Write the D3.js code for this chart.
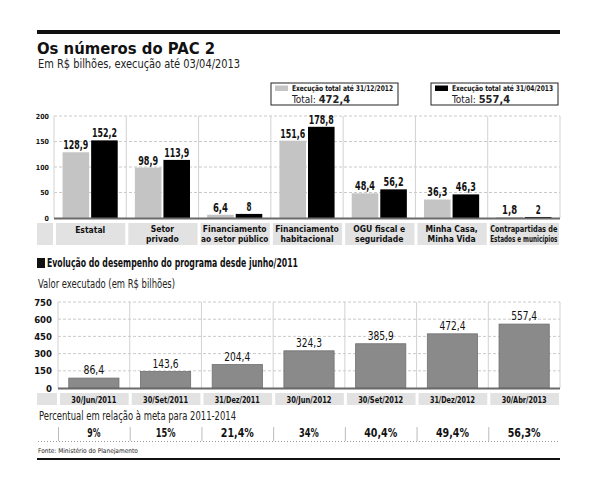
<!DOCTYPE html>
<html><head><meta charset="utf-8">
<script src="https://cdn.jsdelivr.net/npm/d3@7"></script>
<style>
body{margin:0;background:#fff;}
svg{display:block;}
text{font-family:"DejaVu Sans Condensed","DejaVu Sans",sans-serif;}
</style></head><body>
<svg id="c" width="600" height="491"></svg>
<script>
// ---- data ----
const categories = [
  ["Estatal"], ["Setor", "privado"], ["Financiamento", "ao setor público"],
  ["Financiamento", "habitacional"], ["OGU fiscal e", "seguridade"],
  ["Minha Casa,", "Minha Vida"], ["Contrapartidas de", "Estados e municípios"]
];
const series = ["Execução total até 31/12/2012", "Execução total até 31/04/2013"];
const totals = ["472,4", "557,4"];
const values2012 = [128.9, 98.9, 6.4, 151.6, 48.4, 36.3, 1.8];
const values2013 = [152.2, 113.9, 8, 178.8, 56.2, 46.3, 2];
const topTicks = [0, 50, 100, 150, 200];

const dates = ["30/Jun/2011", "30/Set/2011", "31/Dez/2011", "30/Jun/2012", "30/Set/2012", "31/Dez/2012", "30/Abr/2013"];
const executed = [86.4, 143.6, 204.4, 324.3, 385.9, 472.4, 557.4];
const bottomTicks = [0, 150, 300, 450, 600, 750];
const percents = ["9%", "15%", "21,4%", "34%", "40,4%", "49,4%", "56,3%"];

const fmt = v => String(v).replace(".", ",");
const svg = d3.select("#c");
// shrink a text to a maximum width if it is wider
function fit(sel, w) {
  sel.each(function (d) {
    const ww = typeof w === "function" ? w.call(this, d) : w;
    const L = this.getComputedTextLength();
    if (L > ww) d3.select(this).attr("textLength", ww).attr("lengthAdjust", "spacingAndGlyphs");
  });
  return sel;
}

// header
svg.append("rect").attr("x", 37).attr("y", 30).attr("width", 523).attr("height", 4).attr("fill", "#111");
svg.append("text").attr("x", 37).attr("y", 54).attr("font-family", "DejaVu Sans").attr("font-weight", "bold")
  .attr("font-size", 16.5).attr("fill", "#111").text("Os números do PAC 2");
fit(svg.append("text").attr("x", 38).attr("y", 68).attr("font-size", 12).attr("fill", "#222")
  .text("Em R$ bilhões, execução até 03/04/2013"), 202);

// legend
const legendX = [271, 431];
const legendCol = ["#c4c4c4", "#000"];
series.forEach((s, i) => {
  const g = svg.append("g").attr("transform", `translate(${legendX[i]},83)`);
  g.append("rect").attr("width", 127).attr("height", 22).attr("fill", "#fff").attr("stroke", "#222").attr("stroke-width", 1);
  g.append("rect").attr("x", 4).attr("y", 2.5).attr("width", 13).attr("height", 5.5).attr("fill", legendCol[i]);
  fit(g.append("text").attr("x", 21).attr("y", 7.8).attr("font-size", 7.8).attr("font-weight", "bold").attr("fill", "#111").text(s), 101);
  const t = g.append("text").attr("x", 21).attr("y", 20).attr("fill", "#222");
  t.append("tspan").attr("font-size", 10).text("Total: ");
  t.append("tspan").attr("font-size", 11).attr("font-weight", "bold").text(totals[i]);
});

// ---- top chart ----
const tx = d3.scaleBand().domain(d3.range(categories.length)).range([54, 560]).padding(0);
const ty = d3.scaleLinear().domain([0, 200]).range([218, 116]);
const tx1 = d3.scaleBand().domain([0, 1]).range([0, tx.bandwidth()]).paddingInner(0.07).paddingOuter(0.3);

const topG = svg.append("g");
topG.selectAll(".grid").data(topTicks.slice(1)).join("line")
  .attr("x1", 54).attr("x2", 560).attr("y1", d => ty(d)).attr("y2", d => ty(d))
  .attr("stroke", "#bdbdbd").attr("stroke-dasharray", "3,2").attr("stroke-width", 0.8);
topG.selectAll(".vsep").data(d3.range(categories.length + 1)).join("line")
  .attr("x1", d => 54 + d * tx.step()).attr("x2", d => 54 + d * tx.step())
  .attr("y1", ty(200)).attr("y2", ty(0)).attr("stroke", "#d2d2d2").attr("stroke-width", 1);

const yAxisTop = d3.axisLeft(ty).tickValues(topTicks).tickSize(0).tickPadding(4);
const ga = topG.append("g").attr("transform", "translate(53,0)").call(yAxisTop);
ga.select(".domain").remove();
ga.selectAll("text").attr("font-size", 7).attr("font-weight", "bold").attr("fill", "#111")
  .attr("font-family", "DejaVu Sans Condensed");

const vals = [values2012, values2013];
const barCol = ["#c4c4c4", "#000"];
vals.forEach((arr, si) => {
  topG.selectAll(".b" + si).data(arr).join("rect")
    .attr("x", (d, i) => tx(i) + tx1(si)).attr("width", tx1.bandwidth())
    .attr("y", d => ty(d)).attr("height", d => ty(0) - ty(d)).attr("fill", barCol[si]);
  fit(topG.selectAll(".l" + si).data(arr).join("text")
    .attr("x", (d, i) => tx(i) + tx1(si) + tx1.bandwidth() / 2).attr("y", d => ty(d) - 3)
    .attr("text-anchor", "middle").attr("font-size", 12).attr("font-weight", "bold").attr("fill", "#111")
    .text(d => fmt(d)), d => fmt(d).length * 5);
});
topG.append("line").attr("x1", 54).attr("x2", 560).attr("y1", ty(0) + 0.5).attr("y2", ty(0) + 0.5)
  .attr("stroke", "#6a6a6a").attr("stroke-width", 2);

// category label row
topG.append("rect").attr("x", 37).attr("y", 223).attr("width", 16).attr("height", 22).attr("fill", "#e2e2e2");
categories.forEach((c, i) => {
  topG.append("rect").attr("x", tx(i) + 2).attr("y", 223).attr("width", tx.bandwidth() - 3).attr("height", 22).attr("fill", "#e2e2e2");
  c.forEach((line, k) => {
    fit(topG.append("text").attr("x", tx(i) + tx.bandwidth() / 2).attr("text-anchor", "middle")
      .attr("font-size", 8.5).attr("font-weight", "bold").attr("fill", "#111")
      .attr("y", (c.length === 1 ? 233 : 232) + k * 9.5).text(line), tx.bandwidth() - 5);
  });
});

// ---- section header ----
svg.append("rect").attr("x", 37).attr("y", 258).attr("width", 8).attr("height", 10).attr("fill", "#111");
fit(svg.append("text").attr("x", 47).attr("y", 267).attr("font-size", 12).attr("font-weight", "bold").attr("fill", "#111")
  .text("Evolução do desempenho do programa desde junho/2011"), 251);
fit(svg.append("text").attr("x", 38).attr("y", 288).attr("font-size", 12).attr("fill", "#222")
  .text("Valor executado (em R$ bilhões)"), 137);

// ---- bottom chart ----
const bx = d3.scaleBand().domain(d3.range(dates.length)).range([58, 560]).paddingInner(0.3).paddingOuter(0.15);
const by = d3.scaleLinear().domain([0, 750]).range([388, 302]);
const bstep = (560 - 58) / dates.length;
const bot = svg.append("g");
bot.selectAll(".grid").data(bottomTicks.slice(1)).join("line")
  .attr("x1", 58).attr("x2", 560).attr("y1", d => by(d)).attr("y2", d => by(d))
  .attr("stroke", "#bdbdbd").attr("stroke-dasharray", "3,2").attr("stroke-width", 0.8);
bot.selectAll(".vsep").data(d3.range(dates.length + 1)).join("line")
  .attr("x1", d => 58 + d * bstep).attr("x2", d => 58 + d * bstep)
  .attr("y1", by(750)).attr("y2", by(0)).attr("stroke", "#d2d2d2").attr("stroke-width", 1);
const yAxisBot = d3.axisLeft(by).tickValues(bottomTicks).tickSize(0).tickPadding(4);
const gb = bot.append("g").attr("transform", "translate(56,0)").call(yAxisBot);
gb.select(".domain").remove();
gb.selectAll("text").attr("font-size", 9.5).attr("font-weight", "bold").attr("fill", "#111")
  .attr("font-family", "DejaVu Sans Condensed");

bot.selectAll(".bar").data(executed).join("rect")
  .attr("x", (d, i) => bx(i)).attr("width", bx.bandwidth())
  .attr("y", d => by(d)).attr("height", d => by(0) - by(d))
  .attr("fill", "#8a8a8a").attr("stroke", "#6f6f6f").attr("stroke-width", 0.8);
fit(bot.selectAll(".lab").data(executed).join("text")
  .attr("x", (d, i) => bx(i) + bx.bandwidth() / 2).attr("y", d => by(d) - 4)
  .attr("text-anchor", "middle").attr("font-size", 12).attr("fill", "#111")
  .text(d => fmt(d)), d => fmt(d).length * 5.2);
bot.append("line").attr("x1", 58).attr("x2", 560).attr("y1", by(0) + 0.5).attr("y2", by(0) + 0.5)
  .attr("stroke", "#6a6a6a").attr("stroke-width", 2);

bot.append("rect").attr("x", 37).attr("y", 393).attr("width", 20).attr("height", 12).attr("fill", "#e2e2e2");
dates.forEach((d, i) => {
  const x0 = 58 + i * bstep;
  bot.append("rect").attr("x", x0 + 2).attr("y", 393).attr("width", bstep - 3).attr("height", 12).attr("fill", "#e2e2e2");
  fit(bot.append("text").attr("x", x0 + bstep / 2).attr("y", 402.5).attr("text-anchor", "middle")
    .attr("font-size", 8.5).attr("font-weight", "bold").attr("fill", "#111").text(d), 45);
});

// percent row
fit(svg.append("text").attr("x", 39).attr("y", 420).attr("font-size", 12).attr("fill", "#222")
  .text("Percentual em relação à meta para 2011-2014"), 197);
svg.append("line").attr("x1", 38).attr("x2", 560).attr("y1", 441.5).attr("y2", 441.5)
  .attr("stroke", "#999").attr("stroke-dasharray", "1,2").attr("stroke-width", 1);
d3.range(dates.length).forEach(i => {
  const x0 = 58 + i * bstep + 0.5;
  svg.append("line").attr("x1", x0).attr("x2", x0).attr("y1", 427).attr("y2", 441).attr("stroke", "#bbb");
});
percents.forEach((p, i) => {
  fit(svg.append("text").attr("x", 58 + i * bstep + bstep / 2).attr("y", 437).attr("text-anchor", "middle")
    .attr("font-size", 12).attr("font-weight", "bold").attr("fill", "#111").text(p), p.length * 6.6);
});

// footer
svg.append("text").attr("x", 38).attr("y", 453).attr("font-size", 6.5).attr("fill", "#222")
  .text("Fonte: Ministério do Planejamento");
svg.append("rect").attr("x", 37).attr("y", 458).attr("width", 523).attr("height", 2).attr("fill", "#111");
</script>
</body></html>
